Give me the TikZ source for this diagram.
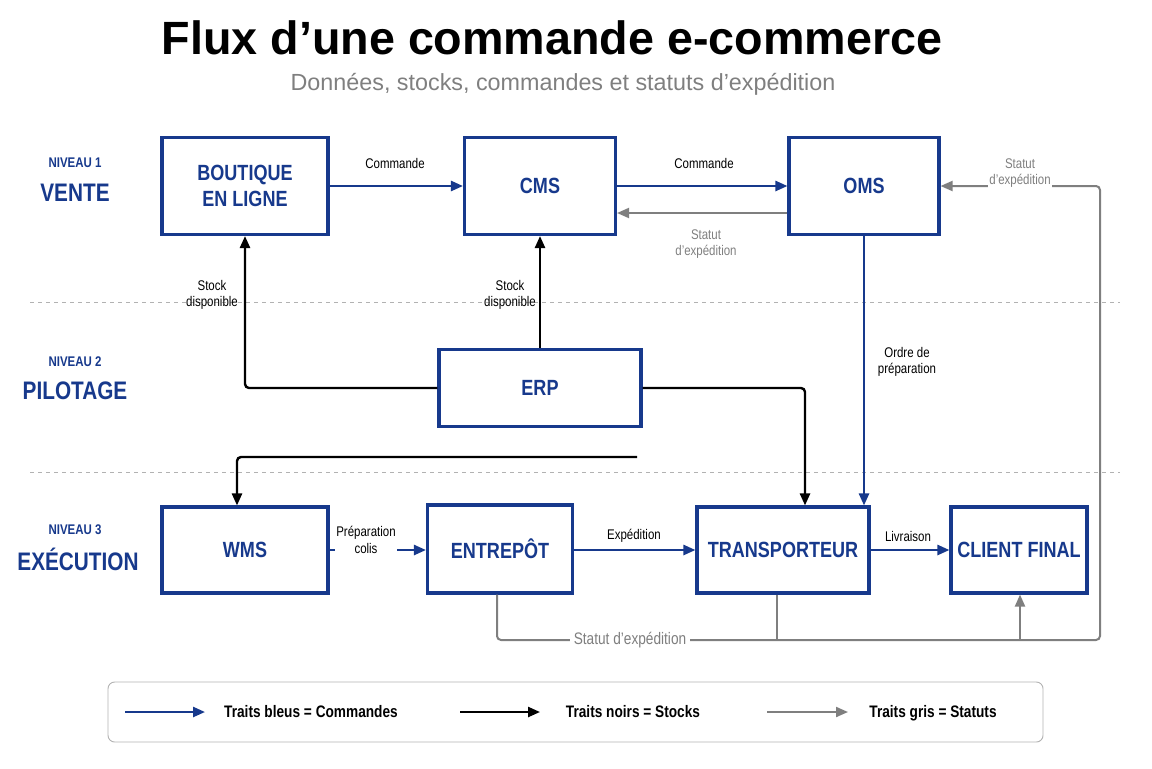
\documentclass[tikz,border=0pt]{standalone}
\usepackage{fontspec}
\setmainfont{Liberation Sans}
\newfontfamily\cond{Liberation Sans}[FakeStretch=0.82]
\usetikzlibrary{arrows.meta}
\definecolor{bl}{HTML}{17398C}
\definecolor{gr}{HTML}{7F7F7F}
\begin{document}
\begin{tikzpicture}[x=0.75pt,y=-0.75pt,
 box/.style={draw=bl,line width=2.3pt,fill=white,text=bl,font=\cond\bfseries\fontsize{16.5}{19}\selectfont,align=center,inner sep=0},
 lab/.style={font=\cond\fontsize{10.5}{12.5}\selectfont,align=center},
 ab/.style={draw=bl,line width=1.8pt,-{Triangle[length=9pt,width=7.5pt]}},
 ak/.style={draw=black,line width=1.8pt,-{Triangle[length=9pt,width=7.5pt]}},
 ag/.style={draw=gr,line width=1.5pt,-{Triangle[length=9pt,width=7.5pt]},rounded corners=3pt},
 lvs/.style={text=bl,font=\cond\bfseries\fontsize{10.5}{12}\selectfont},
 lvb/.style={text=bl,font=\cond\bfseries\fontsize{19}{21}\selectfont},
 leg/.style={font=\cond\bfseries\fontsize{12.5}{14}\selectfont,text height=9pt,text depth=2.5pt},
 sep/.style={draw=gr!60,dashed,line width=0.6pt}]
\useasboundingbox (0,0) rectangle (1152,768);
\node[font=\bfseries\fontsize{35}{40}\selectfont] (title) at (552,38) {Flux d’une commande e-commerce};
\node[text=gr,font=\fontsize{17.5}{20}\selectfont] (sub) at (563,84) {Données, stocks, commandes et statuts d’expédition};
\draw[sep] (30,302) -- (1120,302);
\draw[sep] (30,472) -- (1120,472);
\node[lvs] (n1) at (75,163) {NIVEAU 1};
\node[lvb] (v1) at (75,193) {VENTE};
\node[lvs] (n2) at (75,362) {NIVEAU 2};
\node[lvb] (v2) at (75,391) {PILOTAGE};
\node[lvs] (n3) at (75,530) {NIVEAU 3};
\node[lvb] (v3) at (78,559) {EXÉCUTION};
\node[box,minimum width=166*0.75pt,minimum height=97*0.75pt] (bout) at (245,186) {BOUTIQUE\\EN LIGNE};
\node[box,minimum width=151*0.75pt,minimum height=97*0.75pt] (cms) at (540,186) {CMS};
\node[box,minimum width=150*0.75pt,minimum height=97*0.75pt] (oms) at (864,186) {OMS};
\node[box,minimum width=202*0.75pt,minimum height=77*0.75pt] (erp) at (540,388) {ERP};
\node[box,minimum width=166*0.75pt,minimum height=86*0.75pt] (wms) at (245,550) {WMS};
\node[box,minimum width=145*0.75pt,minimum height=88*0.75pt] (ent) at (500,549) {ENTREPÔT};
\node[box,minimum width=172*0.75pt,minimum height=86*0.75pt] (tra) at (783,550) {TRANSPORTEUR};
\node[box,minimum width=136*0.75pt,minimum height=86*0.75pt] (cli) at (1019,550) {CLIENT FINAL};
% blue
\draw[ab] (bout.east) -- (cms.west);
\node[lab] (l1) at (395,163) {Commande};
\draw[ab] (cms.east) -- (oms.west);
\node[lab] (l2) at (704,163) {Commande};
\draw[ab] (oms.south) -- (oms.south |- tra.north);
\node[lab] (l3) at (907,362) {Ordre de\\préparation};
\draw[ab] (wms.east) -- (ent.west |- wms.east);
\node[lab,fill=white,inner sep=1pt] (l4) at (366,540) {Préparation\\colis};
\draw[ab] (ent.east |- tra.west) -- (tra.west);
\node[lab] (l5) at (634,536) {Expédition};
\draw[ab] (tra.east) -- (cli.west);
\node[lab] (l6) at (908,536) {Livraison};
% black
\draw[ak,rounded corners=3pt] (erp.west) -| (bout.south);
\node[lab] (l7) at (212,295) {Stock\\disponible};
\draw[ak] (erp.north) -- (cms.south);
\node[lab] (l8) at (510,295) {Stock\\disponible};
\draw[ak,rounded corners=3pt] (erp.east) -| ([xshift=22*0.75pt]tra.north);
\coordinate (free) at (637,457);
\draw[ak,rounded corners=3pt] (free) -| ([xshift=-8*0.75pt]wms.north);
% gray
\draw[ag] ([yshift=-27*0.75pt]oms.west) -- ([yshift=-27*0.75pt]cms.east);
\node[lab,text=gr] (l9) at (706,244) {Statut\\d’expédition};
\coordinate (c1) at (1100,640);
\draw[ag] ([xshift=-3*0.75pt]ent.south) |- (c1) |- (oms.east);
\draw[gr,line width=1.5pt] (tra.south -| 777,0) -- (777,640);
\draw[ag] (1020,640) -- (cli.south -| 1020,0);
\node[lab,text=gr,fill=white,inner sep=3pt,font=\cond\fontsize{12.5}{14}\selectfont] (l10) at (630,640) {Statut d’expédition};
\node[lab,text=gr,fill=white,inner sep=1pt] (l11) at (1020,173) {Statut\\d’expédition};
% legend
\node[draw=gr!60,rounded corners=5pt,line width=0.7pt,minimum width=935*0.75pt,minimum height=60*0.75pt] (leg) at (575.5,712) {};
\coordinate (a1) at (125,712); \coordinate (b1) at (205,712);
\draw[ab] (a1) -- (b1);
\node[leg] (t1) at (311,713) {Traits bleus = Commandes};
\coordinate (a2) at (460,712); \coordinate (b2) at (540,712);
\draw[ak] (a2) -- (b2);
\node[leg] (t2) at (633,713) {Traits noirs = Stocks};
\coordinate (a3) at (767,712); \coordinate (b3) at (848,712);
\draw[ag] (a3) -- (b3);
\node[leg] (t3) at (933,713) {Traits gris = Statuts};
\end{tikzpicture}
\end{document}
